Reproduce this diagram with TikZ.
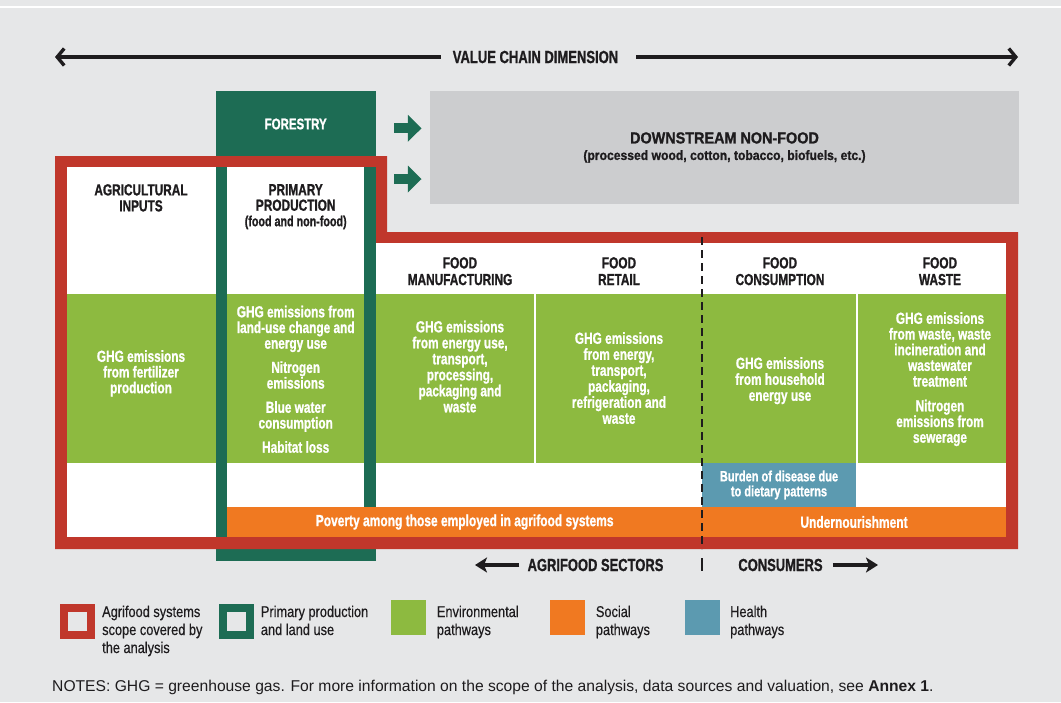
\documentclass[tikz,border=0pt]{standalone}
\usepackage{fontspec}
\setmainfont{Liberation Sans}
\newfontfamily\condfont{Liberation Sans}[FakeStretch=0.74, BoldFeatures={FakeBold=1}]
\newfontfamily\wideheadfont{Liberation Sans}[FakeStretch=0.9, BoldFeatures={FakeBold=1}]
\newfontfamily\legfont{Liberation Sans}[FakeStretch=0.82, FakeBold=0.4]
\usetikzlibrary{arrows.meta, positioning}

\definecolor{fgred}{RGB}{192,55,43}
\definecolor{fgdark}{RGB}{29,108,84}
\definecolor{fglime}{RGB}{141,186,64}
\definecolor{fgorange}{RGB}{240,121,33}
\definecolor{fgblue}{RGB}{92,154,176}
\definecolor{fgbg}{RGB}{230,231,232}
\definecolor{fggrey}{RGB}{204,205,207}
\definecolor{fgink}{RGB}{30,28,30}

\tikzset{
    colhead/.style={anchor=north, inner sep=0pt, align=center, text=fgink,
        font=\condfont\bfseries\fontsize{16}{16}\selectfont},
    pathtext/.style={anchor=north, inner sep=0pt, align=center, text=white,
        font=\condfont\bfseries\fontsize{16}{15.7}\selectfont},
    bartext/.style={inner sep=0pt, align=center, text=white,
        font=\condfont\bfseries\fontsize{16.2}{15}\selectfont},
    legtext/.style={anchor=north west, inner sep=0pt, align=left, text=fgink,
        font=\legfont\fontsize{15.6}{18}\selectfont},
    dimlabel/.style={inner sep=0pt, text=fgink,
        font=\condfont\bfseries\fontsize{17.5}{18}\selectfont},
    keybox/.style={anchor=north west, inner sep=0pt, minimum size=35pt},
    keyframe/.style={anchor=north west, inner sep=0pt, minimum size=27pt, line width=8pt},
    chainline/.style={fgink, line width=3.4pt, -{Straight Barb[length=7pt,width=17pt]}},
    sectorarrow/.style={fgink, line width=3.4pt, -{Stealth[length=12pt,width=15pt,inset=3pt]}},
    fwdarrow/.style={fgdark, line width=10pt, -{Triangle[length=13.7pt,width=27pt,line width=0pt]}},
}

\begin{document}
\begin{tikzpicture}[x=1pt, y=-1pt]
    \fill[fgbg] (0,0) rectangle (1061,702);
    \useasboundingbox (0,0) rectangle (1061,702);
    \draw[white, line width=2pt] (0,7) -- (1061,7);

    % value chain dimension
    \node[dimlabel, font=\condfont\bfseries\fontsize{17.6}{18}\selectfont] (valuechain) at (535.5,57) {VALUE CHAIN DIMENSION};
    \coordinate (chainleft) at (55,57);
    \coordinate (chainright) at (1018,57);
    \draw[chainline, shorten <=12pt] (valuechain.west) -- (chainleft);
    \draw[chainline, shorten <=18pt] (valuechain.east) -- (chainright);

    % downstream non-food
    \node[fill=fggrey, minimum width=589pt, minimum height=113pt, inner sep=0pt, align=center, text=fgink,
        font=\wideheadfont\bfseries\fontsize{16}{16.5}\selectfont] (downstream) at (724.5,147.5)
        {DOWNSTREAM NON-FOOD\\{\fontsize{13.5}{16.5}\selectfont(processed wood, cotton, tobacco, biofuels, etc.)}};

    % primary production and land use
    \fill[fgdark] (215.7,91) rectangle (375.7,561);
    \node[colhead, anchor=center, text=white, font=\condfont\bfseries\fontsize{15.5}{16}\selectfont] (forestry) at (295.7,124) {FORESTRY};

    % agrifood systems scope
    \fill[fgred] (55,156) -- (387,156) -- (387,232) -- (1018,232) -- (1018,549) -- (55,549) -- cycle;
    \fill[fgdark] (215.7,167) rectangle (375.7,537);
    \fill[white] (66.7,167) rectangle (215.7,537);
    \fill[white] (227.3,167) rectangle (364,537);
    \fill[white] (375.7,243) rectangle (1006,537);

    \coordinate (forA) at (394,128.3);
    \coordinate (forB) at (394,179);
    \draw[fwdarrow, shorten >=8.3pt] (forA) -- (forA -| downstream.west);
    \draw[fwdarrow, shorten >=8.3pt] (forB) -- (forB -| downstream.west);

    % environmental pathways
    \fill[fglime] (66.7,294) rectangle (215.7,463);
    \fill[fglime] (227.3,294) rectangle (364,463);
    \fill[fglime] (375.7,294) rectangle (1006,463);
    \draw[white, line width=2pt] (535,294) -- (535,463);
    \draw[white, line width=2pt] (857,294) -- (857,463);

    % health and social pathways
    \node[bartext, fill=fgblue, minimum width=154pt, minimum height=44pt,
        font=\condfont\bfseries\fontsize{14.9}{15}\selectfont] (diet) at (779,485)
        {Burden of disease due\\to dietary patterns};
    \node[bartext, fill=fgorange, minimum width=474.7pt, minimum height=30pt] (poverty) at (464.65,522)
        {Poverty among those employed in agrifood systems};
    \node[bartext, fill=fgorange, minimum width=304pt, minimum height=30pt] (undernour) at (854,522)
        {Undernourishment};

    % column headers
    \node[colhead] (agrihead) at (141,184) {AGRICULTURAL\\INPUTS};
    \node[colhead, font=\condfont\bfseries\fontsize{16}{15.5}\selectfont] (primhead) at (295.7,184)
        {PRIMARY\\PRODUCTION\\{\fontsize{14.5}{15.5}\selectfont(food and non-food)}};
    \node[colhead, font=\condfont\bfseries\fontsize{16}{16.7}\selectfont] (manuhead) at (460,257) {FOOD\\MANUFACTURING};
    \node[colhead, font=\condfont\bfseries\fontsize{16}{16.7}\selectfont] (retahead) at (619,257) {FOOD\\RETAIL};
    \node[colhead, font=\condfont\bfseries\fontsize{16}{16.7}\selectfont] (conshead) at (780,257) {FOOD\\CONSUMPTION};
    \node[colhead, font=\condfont\bfseries\fontsize{16}{16.7}\selectfont] (wastehead) at (940,257) {FOOD\\WASTE};

    % pathway texts
    \node[pathtext] (agrienv) at (141,350) {GHG emissions\\from fertilizer\\production};
    \node[pathtext] (primenv) at (295.7,305.5) {GHG emissions from\\land-use change and\\energy use\\[8.5pt]
        Nitrogen\\emissions\\[8.5pt]Blue water\\consumption\\[8.5pt]Habitat loss};
    \node[pathtext, font=\condfont\bfseries\fontsize{16}{16}\selectfont] (manuenv) at (460,320.5)
        {GHG emissions\\from energy use,\\transport,\\processing,\\packaging and\\waste};
    \node[pathtext, font=\condfont\bfseries\fontsize{16}{16}\selectfont] (retaenv) at (619,332)
        {GHG emissions\\from energy,\\transport,\\packaging,\\refrigeration and\\waste};
    \node[pathtext, font=\condfont\bfseries\fontsize{16}{16}\selectfont] (consenv) at (780,357)
        {GHG emissions\\from household\\energy use};
    \node[pathtext] (wasteenv) at (940,312)
        {GHG emissions\\from waste, waste\\incineration and\\wastewater\\treatment\\[9pt]
        Nitrogen\\emissions from\\sewerage};

    % agrifood sectors / consumers
    \draw[fgink, line width=1.8pt, dash pattern=on 8pt off 5pt] (702,237) -- (702,549);
    \draw[fgink, line width=1.8pt] (702,558) -- (702,571);
    \node[dimlabel] (sectors) at (595.5,565) {AGRIFOOD SECTORS};
    \node[dimlabel] (consumers) at (780.5,565) {CONSUMERS};
    \coordinate (sectorsend) at (475,565);
    \coordinate (consumersend) at (878,565);
    \draw[sectorarrow, shorten <=8pt] (sectors.west) -- (sectorsend);
    \draw[sectorarrow, shorten <=10pt] (consumers.east) -- (consumersend);

    % key
    \node[keyframe, draw=fgred] (keyscope) at (59.7,604) {};
    \node[keyframe, draw=fgdark] (keyland) at (219,604) {};
    \node[keybox, fill=fglime] (keyenv) at (390.7,600) {};
    \node[keybox, fill=fgorange] (keysoc) at (550,600) {};
    \node[keybox, fill=fgblue] (keyhealth) at (685,600) {};
    \node[legtext] (scopetext) at (102,605.5) {Agrifood systems\\scope covered by\\the analysis};
    \node[legtext] (landtext) at (260.7,605.5) {Primary production\\and land use};
    \node[legtext] (envtext) at (436.7,605.5) {Environmental\\pathways};
    \node[legtext] (soctext) at (595.7,605.5) {Social\\pathways};
    \node[legtext] (healthtext) at (730,605.5) {Health\\pathways};

    \node[anchor=west, inner sep=0pt, text=fgink, font=\fontsize{15.65}{16}\selectfont] (notes) at (52,687)
        {NOTES: GHG = greenhouse gas. For more information on the scope of the analysis, data sources and valuation, see \textbf{Annex 1}.};
\end{tikzpicture}
\end{document}
